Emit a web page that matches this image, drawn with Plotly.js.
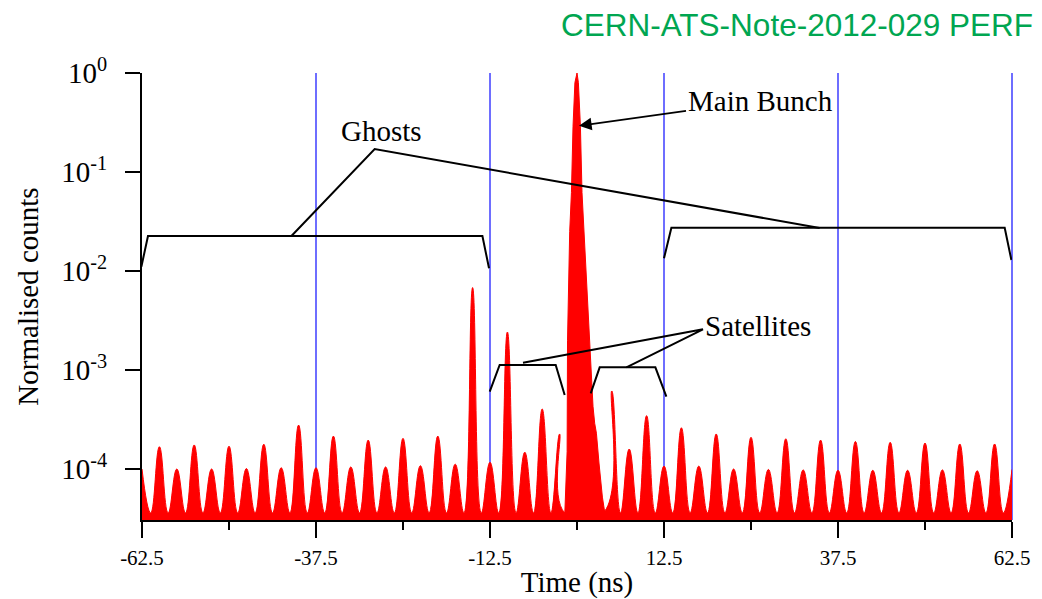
<!DOCTYPE html>
<html>
<head>
<meta charset="utf-8">
<script src="https://cdn.plot.ly/plotly-3.0.1.min.js"></script>
<style>
  html, body { margin: 0; padding: 0; background: #ffffff; }
  #chart { width: 1042px; height: 599px; }
</style>
</head>
<body>
<div id="chart"></div>
<script>
// Normalised counts at the peak of each 2.5 ns RF bucket (main bunch bucket handled separately)
const bucketTimes = [
  -62.5, -60, -57.5, -55, -52.5, -50, -47.5, -45, -42.5, -40,
  -37.5, -35, -32.5, -30, -27.5, -25, -22.5, -20, -17.5, -15,
  -12.5, -10, -7.5, -5, -2.5,
  5, 7.5, 10, 12.5, 15, 17.5, 20, 22.5, 25, 27.5,
  30, 32.5, 35, 37.5, 40, 42.5, 45, 47.5, 50, 52.5,
  55, 57.5, 60, 62.5
];
const bucketCounts = [
  1.00e-4, 1.68e-4, 1.00e-4, 1.75e-4, 1.00e-4, 1.70e-4, 1.01e-4, 1.78e-4, 1.03e-4, 2.78e-4,
  1.03e-4, 2.15e-4, 1.05e-4, 1.96e-4, 1.05e-4, 2.04e-4, 1.08e-4, 2.15e-4, 1.12e-4, 6.8e-3,
  1.17e-4, 2.42e-3, 1.48e-4, 4.04e-4, 2.26e-4,
  6.14e-4, 1.59e-4, 3.46e-4, 1.07e-4, 2.61e-4, 1.07e-4, 2.26e-4, 1.00e-4, 2.09e-4, 0.99e-4,
  2.02e-4, 0.98e-4, 1.96e-4, 0.97e-4, 1.90e-4, 0.97e-4, 1.86e-4, 0.97e-4, 1.83e-4, 0.98e-4,
  1.79e-4, 0.96e-4, 1.79e-4, 0.99e-4
];

// Main bunch profile, including its trailing shoulder
const mainTimes = [
  -1.75, -1.42, -1.36, -1.29, -1.05, -0.8, -0.57, -0.3, 0, 0.2, 0.49, 0.72,
  1.0, 1.45, 1.68, 1.82, 2.07, 2.3, 2.54, 2.79, 3.16, 3.65, 4.0
];
const mainCounts = [
  3.6e-5, 1.5e-4, 2.0e-3, 4.4e-3, 2.5e-2, 6.2e-2, 0.29, 0.8, 1.0, 0.8, 0.29, 6.2e-2,
  2.5e-2, 6.0e-3, 3.8e-3, 1.7e-3, 8.0e-4, 4.3e-4, 2.9e-4, 2.3e-4, 1.15e-4, 5.2e-5, 3.6e-5
];

// Background level between buckets
const floorCount = 3.6e-5;

// Axis labels
const xTickVals = [-62.5, -37.5, -12.5, 12.5, 37.5, 62.5];
const xTickText = ['-62.5', '-37.5', '-12.5', '12.5', '37.5', '62.5'];
const xMinorVals = [-50, -25, 0, 25, 50];
const yTickVals = [1e-4, 1e-3, 1e-2, 1e-1, 1];
const yTickText = ['10<sup>-4</sup>', '10<sup>-3</sup>', '10<sup>-2</sup>', '10<sup>-1</sup>', '10<sup>0</sup>'];

const HALF_BUCKET = 1.25;

// Bucket comb: a valley between neighbouring buckets, skipping the main bunch window
const combX = [];
const combY = [];
for (let i = 0; i < bucketTimes.length; i++) {
  if (i > 0) {
    const a = bucketTimes[i - 1];
    const b = bucketTimes[i];
    if (b - a > 2.6) {
      combX.push(mainTimes[0], b - HALF_BUCKET);
      combY.push(floorCount, floorCount);
    } else {
      combX.push((a + b) / 2);
      combY.push(floorCount);
    }
  }
  combX.push(bucketTimes[i]);
  combY.push(bucketCounts[i]);
}

const RED = '#ff0000';
const BLUE = '#6e6eff';
const traces = [
  {
    type: 'scatter', mode: 'lines', x: combX, y: combY,
    line: { color: RED, width: 1, shape: 'spline', smoothing: 1.3 },
    fill: 'tozeroy', fillcolor: RED, hoverinfo: 'skip', showlegend: false
  },
  {
    type: 'scatter', mode: 'lines', x: mainTimes, y: mainCounts,
    line: { color: RED, width: 1, shape: 'linear' },
    fill: 'tozeroy', fillcolor: RED, hoverinfo: 'skip', showlegend: false
  }
];

// Bracket outlines for the labelled regions (x in ns, y as fraction of plot height)
function polyline(pts) {
  return pts.map((p, i) => (i ? 'L' : 'M') + p[0] + ',' + p[1]).join(' ');
}
const lineStyle = { color: '#000000', width: 2 };
function bracket(pts) {
  return { type: 'path', xref: 'x', yref: 'paper', path: polyline(pts), line: lineStyle, layer: 'above' };
}

const shapes = [
  // grid line along the right edge of the time window
  {
    type: 'line', xref: 'paper', yref: 'paper',
    x0: 1, x1: 1, y0: 0, y1: 1,
    line: { color: BLUE, width: 2 }, layer: 'below'
  },
  // ghosts, before the main bunch
  bracket([[-62.59, 0.5667], [-61.64, 0.6353], [-13.59, 0.6353], [-12.64, 0.5631]]),
  // ghosts, after the main bunch
  bracket([[12.5, 0.5855], [13.56, 0.6539], [61.45, 0.6539], [62.41, 0.5817]]),
  // pointers from the Ghosts label
  bracket([[-41.03, 0.6353], [-29.07, 0.830], [34.87, 0.6532]]),
  // satellites, before and after the main bunch
  bracket([[-12.54, 0.287], [-11.11, 0.3468], [-3.06, 0.3468], [-1.77, 0.2796]]),
  bracket([[1.97, 0.2834], [3.26, 0.3416], [11.26, 0.3416], [12.84, 0.2758]]),
  // pointers from the Satellites label
  bracket([[-7.76, 0.3519], [18.10, 0.4266], [7.10, 0.3416]])
];

const serif = 'Liberation Serif, Times New Roman, serif';
const labelFont = { family: serif, size: 29, color: '#000000' };

const annotations = [
  {
    xref: 'x', yref: 'paper', x: 0.29, y: 0.882,
    text: 'Main Bunch', font: labelFont,
    showarrow: true, axref: 'pixel', ayref: 'pixel', ax: 181, ay: -25,
    arrowhead: 2, arrowsize: 1.4, arrowwidth: 1.8, arrowcolor: '#000000', standoff: 0
  },
  {
    xref: 'x', yref: 'paper', x: -28.1, y: 0.870, xanchor: 'center', yanchor: 'middle',
    text: 'Ghosts', font: labelFont, showarrow: false
  },
  {
    xref: 'x', yref: 'paper', x: 25.96, y: 0.433, xanchor: 'center', yanchor: 'middle',
    text: 'Satellites', font: labelFont, showarrow: false
  }
];

const layout = {
  width: 1042, height: 599,
  margin: { l: 142, r: 30, t: 73, b: 79 },
  paper_bgcolor: '#ffffff', plot_bgcolor: '#ffffff',
  font: { family: serif, color: '#000000' },
  showlegend: false,
  title: {
    text: 'CERN-ATS-Note-2012-029 PERF',
    xref: 'container', yref: 'container',
    x: 0.9914, xanchor: 'right', y: 0.958, yanchor: 'middle',
    font: { family: 'Liberation Sans, Arial, sans-serif', size: 31.5, color: '#00a651' }
  },
  xaxis: {
    range: [-62.5, 62.5],
    tickmode: 'array', tickvals: xTickVals, ticktext: xTickText,
    ticks: 'outside', ticklen: 16, tickwidth: 2, tickcolor: '#000000',
    ticklabelstandoff: 2,
    tickfont: { family: serif, size: 21, color: '#000000' },
    showline: true, linecolor: '#000000', linewidth: 2,
    showgrid: true, gridcolor: BLUE, gridwidth: 2,
    zeroline: false,
    minor: {
      tickmode: 'array', tickvals: xMinorVals,
      ticks: 'outside', ticklen: 8, tickwidth: 2, tickcolor: '#000000', showgrid: false
    },
    title: { text: 'Time (ns)', font: { family: serif, size: 29, color: '#000000' }, standoff: 2 }
  },
  yaxis: {
    type: 'log', range: [-4.515, 0],
    tickmode: 'array', tickvals: yTickVals, ticktext: yTickText,
    ticks: 'outside', ticklen: 15, tickwidth: 2, tickcolor: '#000000',
    ticklabelstandoff: 12,
    tickfont: { family: serif, size: 29, color: '#000000' },
    showline: true, linecolor: '#000000', linewidth: 2,
    showgrid: false, zeroline: false,
    title: { text: 'Normalised counts', font: { family: serif, size: 29, color: '#000000' }, standoff: 14 }
  },
  shapes: shapes,
  annotations: annotations
};

Plotly.newPlot('chart', traces, layout, { staticPlot: true, displayModeBar: false });
</script>
</body>
</html>
